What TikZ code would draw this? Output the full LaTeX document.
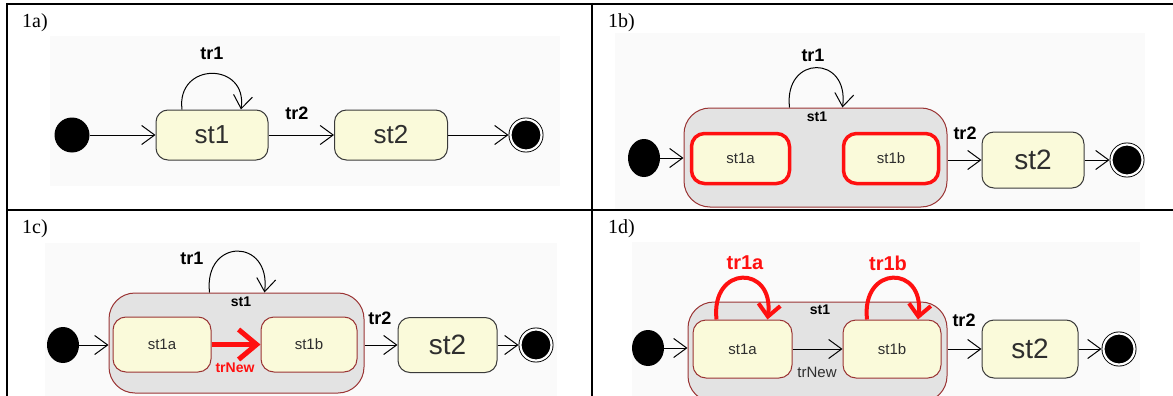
\documentclass[tikz,border=0pt]{standalone}
\usepackage{fontspec}
\setmainfont{Liberation Serif}
\setsansfont{Liberation Sans}
\usetikzlibrary{arrows.meta,shapes.geometric}
\definecolor{stfill}{HTML}{FAFADA}
\definecolor{stdraw}{HTML}{3A3A3A}
\definecolor{sttext}{HTML}{2E2E2E}
\definecolor{compfill}{HTML}{E3E3E3}
\definecolor{compdraw}{HTML}{9A3434}
\definecolor{panel}{HTML}{FAFAFA}
\definecolor{myred}{HTML}{FF1010}
\begin{document}
\begin{tikzpicture}[x=1pt,y=-1pt,
  state/.style={draw=stdraw, fill=stfill, rounded corners=12pt, line width=1pt, inner sep=0pt, text=sttext, font=\sffamily\fontsize{26}{26}\selectfont},
  bigstate/.style={state, font=\sffamily\fontsize{28}{28}\selectfont},
  sub/.style={fill=stfill, rounded corners=13pt, inner sep=0pt, text=sttext, font=\sffamily\fontsize{15}{15}\selectfont},
  redsub/.style={sub, draw=myred, line width=3.5pt},
  darksub/.style={sub, draw=compdraw, line width=1pt},
  comp/.style={draw=compdraw, fill=compfill, rounded corners=26pt, line width=1pt, inner sep=0pt},
  init/.style={ellipse, fill=black, inner sep=0pt},
  final/.style={circle, fill=black, draw=black, line width=0.9pt, double=white, double distance=2.2pt, minimum size=31pt, inner sep=0pt, outer sep=2pt},
  tr/.style={line width=1pt, -{Straight Barb[length=13pt,width=19pt]}},
  redloop/.style={myred, line width=4pt, -{Straight Barb[length=12pt,width=22pt]}},
  redarrow/.style={myred, line width=5pt, -{Straight Barb[length=18pt,width=30pt]}},
  lbl/.style={font=\sffamily\bfseries\fontsize{18}{18}\selectfont, inner sep=0pt},
  complbl/.style={font=\sffamily\bfseries\fontsize{14}{14}\selectfont, inner sep=0pt},
  cell/.style={font=\fontsize{20}{20}\selectfont, inner sep=0pt, anchor=base west}
]
\useasboundingbox (0,0) rectangle (1173,396);
\clip (0,0) rectangle (1173,396);
% faint panels
\fill[panel] (50,36) rectangle (560,186);
\fill[panel] (615,33) rectangle (1145,209);
\fill[panel] (45,243) rectangle (557,396);
\fill[panel] (632,242) rectangle (1140,396);
% table rules
\draw[line width=2pt] (7,4) -- (1173,4);
\draw[line width=2pt] (7,210) -- (1173,210);
\draw[line width=2pt] (7,3) -- (7,396);
\draw[line width=2pt] (592,3) -- (592,396);
\node[cell] (la) at (22,28) {1a)};
\node[cell] (lb) at (608,28) {1b)};
\node[cell] (lc) at (22,233) {1c)};
\node[cell] (ld) at (608,233) {1d)};

% ---------- 1a ----------
\node[init, minimum width=35pt, minimum height=35pt] (a0) at (72,135) {};
\node[state, minimum width=112pt, minimum height=50pt] (a1) at (212,135) {st1};
\node[state, minimum width=113pt, minimum height=50pt] (a2) at (391,135) {st2};
\node[final] (a3) at (526,135) {};
\draw[tr] (a0) -- (a1);
\draw[tr] (a1) -- (a2);
\draw[tr] (a2) -- (a3);
\draw[tr] ([xshift=-30pt]a1.north) .. controls +(-6,-48) and +(7,-48) .. ([xshift=29pt]a1.north);
\node[lbl] (a1l) at (212,53) {tr1};
\node[lbl] (a2l) at (297,113) {tr2};

% ---------- 1b ----------
\node[init, minimum width=32pt, minimum height=38pt] (b0) at (644,158) {};
\node[comp, minimum width=263pt, minimum height=99pt] (b1) at (815.5,157.5) {};
\node[complbl] (b1l) at (817,117) {st1};
\node[redsub, minimum width=98pt, minimum height=50pt] (b1a) at (740.5,158.5) {st1a};
\node[redsub, minimum width=95pt, minimum height=50pt] (b1b) at (891,158.5) {st1b};
\node[bigstate, minimum width=102pt, minimum height=56pt] (b2) at (1033,160) {st2};
\node[final] (b3) at (1127,160) {};
\draw[tr] (b0) -- (b1.west |- b0);
\draw[tr] (b1.east |- b2) -- (b2);
\draw[tr] (b2) -- (b3);
\draw[tr] ([xshift=-26pt]b1.north) .. controls +(-6,-53) and +(7,-53) .. ([xshift=27pt]b1.north);
\node[lbl] (b1t) at (813,55) {tr1};
\node[lbl] (b2l) at (965,133) {tr2};

% ---------- 1c ----------
\node[init, minimum width=32pt, minimum height=36pt] (c0) at (63,345) {};
\node[comp, minimum width=255pt, minimum height=100pt] (c1) at (236.5,343) {};
\node[complbl] (c1l) at (241,302) {st1};
\node[darksub, minimum width=98pt, minimum height=55pt] (c1a) at (162,344.5) {st1a};
\node[darksub, minimum width=96pt, minimum height=55pt] (c1b) at (309,344.5) {st1b};
\node[bigstate, minimum width=99pt, minimum height=55pt] (c2) at (447.5,345) {st2};
\node[final] (c3) at (536,345) {};
\draw[tr] (c0) -- (c1.west |- c0);
\draw[tr] (c1.east |- c2) -- (c2);
\draw[tr] (c2) -- (c3);
\draw[redarrow] (c1a) -- (c1b);
\node[font=\sffamily\bfseries\fontsize{14}{14}\selectfont, text=myred, inner sep=0pt] (c1n) at (235,368) {trNew};
\draw[tr] ([xshift=-27pt]c1.north) .. controls +(-6,-55) and +(7,-55) .. ([xshift=28pt]c1.north);
\node[lbl] (c1t) at (192,258) {tr1};
\node[lbl] (c2l) at (380,318) {tr2};

% ---------- 1d ----------
\node[init, minimum width=32pt, minimum height=36pt] (d0) at (648,348) {};
\node[comp, minimum width=259pt, minimum height=100pt] (d1) at (817.5,352) {};
\node[complbl] (d1l) at (820,310) {st1};
\node[darksub, minimum width=99pt, minimum height=58pt] (d1a) at (742.5,349) {st1a};
\node[darksub, minimum width=98pt, minimum height=58pt] (d1b) at (892,349) {st1b};
\node[bigstate, minimum width=96pt, minimum height=58pt] (d2) at (1030,349) {st2};
\node[final] (d3) at (1119,349) {};
\draw[tr] (d0) -- (d1.west |- d0);
\draw[tr] (d1.east |- d2) -- (d2);
\draw[tr] (d2) -- (d3);
\draw[tr] (d1a) -- (d1b);
\node[font=\sffamily\fontsize{15}{15}\selectfont, text=sttext, inner sep=0pt] (d1n) at (817,372) {trNew};
\draw[redloop] ([xshift=-26pt]d1a.north) .. controls +(-6,-55) and +(7,-55) .. ([xshift=25pt]d1a.north);
\draw[redloop] ([xshift=-25pt]d1b.north) .. controls +(-6,-55) and +(7,-55) .. ([xshift=26pt]d1b.north);
\node[font=\sffamily\bfseries\fontsize{20}{20}\selectfont, text=myred, inner sep=0pt] (d1at) at (745,263) {tr1a};
\node[font=\sffamily\bfseries\fontsize{20}{20}\selectfont, text=myred, inner sep=0pt] (d1bt) at (888,263) {tr1b};
\node[lbl] (d2l) at (964,320) {tr2};
\end{tikzpicture}
\end{document}
